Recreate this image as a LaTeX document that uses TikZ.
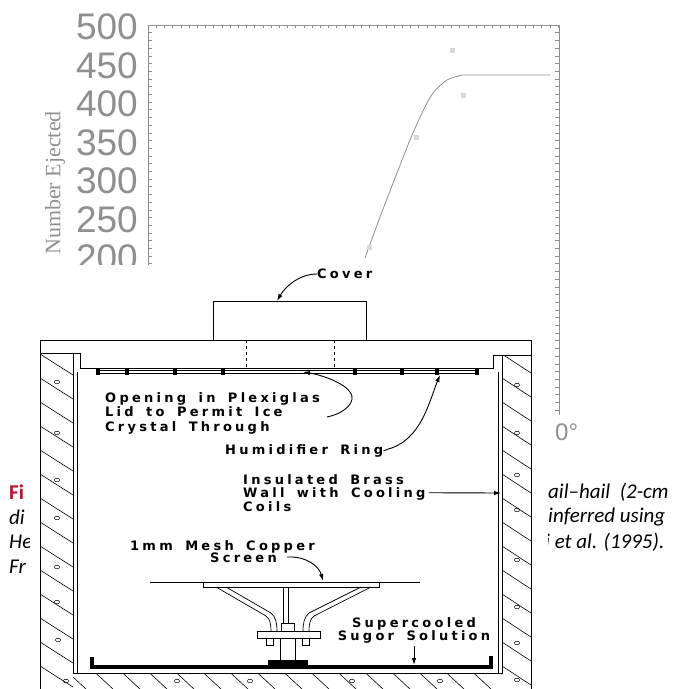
\documentclass[tikz,border=0pt]{standalone}
\usepackage{fontspec}
\setmainfont{Liberation Serif}
\newfontfamily\axisfont{Liberation Sans}
\newfontfamily\capfont{Carlito}
\newfontfamily\lblfont{DejaVu Sans}[LetterSpace=25,WordSpace=1.6]
\usetikzlibrary{calc,arrows,arrows.meta}
\definecolor{plotgray}{gray}{0.56}
\definecolor{capred}{RGB}{192,16,48}

\begin{document}
\begin{tikzpicture}[x=1pt,y=-1pt,
    plotline/.style={draw=plotgray,line width=0.8pt},
    axTick/.style={draw=plotgray,line width=0.5pt},
    ylbl/.style={text=plotgray,font=\axisfont\fontsize{37}{37}\selectfont,anchor=east,inner sep=0pt},
    part/.style={draw=black,line width=0.9pt},
    hatchline/.style={draw=black,line width=0.6pt},
    lbl/.style={font=\lblfont\bfseries\fontsize{13}{14.5}\selectfont,inner sep=0pt,align=left},
    ptr/.style={draw=black,line width=0.9pt,-{Latex[length=7pt,width=4.5pt]}},
    capt/.style={font=\capfont\itshape\fontsize{21}{21}\selectfont,anchor=west,inner sep=0pt}]
  \useasboundingbox (0,0) rectangle (673,689);
  %plot behind
  \draw[plotline] (148,265) -- (148,25) -- (559,25) -- (559,415);
  \foreach \y in {25,32.7,...,265} \draw[axTick] (148,\y) -- ++(4,0);
  \foreach \y in {25,32.7,...,415} \draw[axTick] (559,\y) -- ++(-4,0);
  \foreach \x in {148,156.2,...,559} \draw[axTick] (\x,25) -- ++(0,3);
  \foreach \v [count=\i from 0] in {500,450,...,200}
    \node[ylbl] (yTick\v) at (138,{27+38.5*\i}) {\v};
  \node[rotate=90,text=plotgray,font=\fontsize{22}{22}\selectfont,inner sep=0pt] (yTitle) at (55,183) {Number Ejected};
  \draw[plotline] plot[smooth] coordinates {(365,258) (380,217) (397,173) (410,140) (422,113) (433,93) (447,80) (462,75)} -- (550,75);
  \foreach \p in {(452,50),(463,95),(416,137),(369,247)}
    \fill[plotgray!35] \p +(-2.5,-2.5) rectangle +(2.5,2.5);
  \node[text=plotgray,font=\axisfont\fontsize{24}{24}\selectfont,anchor=west,inner sep=0pt] (xTickEnd) at (555,432) {0\textdegree};
  %caption pieces
  \node[capt,font=\capfont\bfseries\fontsize{21}{21}\selectfont,text=capred] (capFig) at (9,492) {Fi};
  \node[capt] (capDi) at (9,517) {di};
  \node[capt] (capHe) at (9,542) {He};
  \node[capt] (capFr) at (9,567) {Fr};
  \node[capt] (capHail) at (548,492) {ail–hail\ \ (2-cm};
  \node[capt] (capUsing) at (548,517) {inferred using};
  \node[capt] (capEtal) at (545,542) {i et al. (1995).};
  \fill[white] (30,265) rectangle (548,689);
  %walls
  \begin{scope}
    \clip (40,353) rectangle (73,689);
    \foreach \k in {0,...,16} \draw[hatchline] (40,{330+24*\k}) -- ++(33,21);
  \end{scope}
  \begin{scope}
    \clip (502,355) rectangle (531,689);
    \foreach \k in {0,...,16} \draw[hatchline] (502,{330+24*\k}) -- ++(29,19);
  \end{scope}
  \begin{scope}
    \clip (73,673) rectangle (502,689);
    \foreach \x in {60,87,...,520} \draw[hatchline] (\x,665) -- ++(26,24);
  \end{scope}
  \foreach \p in {(57,382),(57,433),(57,480),(57,518),(57,567),(57,602),(58,640),(66,681),
                  (517,385),(517,433),(517,475),(517,510),(517,560),(517,607),(517,643),(517,680),
                  (177,681),(250,681),(352,681),(440,681)}
    \draw[line width=0.5pt] \p ellipse [x radius=2.6pt,y radius=1.8pt];
  \draw[part] (40,689) -- (40,340) -- (531,340) -- (531,689);
  \draw[part] (40,353) -- (80,353) -- (80,368) -- (493,368) -- (493,355) -- (531,355);
  \draw[part] (73,353) -- (73,673) -- (502,673) -- (502,355);
  \draw[line width=0.5pt] (77,372) -- (77,673);
  \draw[line width=0.5pt] (498,372) -- (498,673);
  %cover and lid
  \draw[part] (213,340) -- (213,301) -- (366,301) -- (366,340);
  \draw[part,dashed] (246,340) -- (246,368);
  \draw[part,dashed] (334,340) -- (334,368);
  %humidifier ring
  \draw[line width=0.5pt] (97,370.5) -- (478,370.5);
  \draw[line width=0.5pt] (97,373) -- (478,373);
  \foreach \x in {98,127,175,223,355,402,437,477}
    \fill ({\x-2},369) rectangle ({\x+2},374.5);
  %screen stand
  \draw[part] (150,582) -- (420,582);
  \draw[part] (203,582) -- (203,587) -- (379,587) -- (379,582);
  \draw[line width=0.7pt] (216,587) -- (266,616) .. controls (270,619) and (271,624) .. (271,631);
  \draw[line width=0.7pt] (226,587) -- (271,613) .. controls (276,617) and (277,624) .. (277,631);
  \draw[line width=0.7pt] (371,587) -- (314,616) .. controls (310,619) and (309,624) .. (309,631);
  \draw[line width=0.7pt] (361,587) -- (309,613) .. controls (304,617) and (303,624) .. (303,631);
  \draw[line width=0.7pt] (283,587) -- (283,623);
  \draw[line width=0.7pt] (288,587) -- (288,623);
  \draw[line width=0.7pt] (281,623) rectangle (294,631);
  \draw[part] (257,631) rectangle (320,638);
  \draw[line width=0.7pt] (266,638) -- (266,645) -- (273,645) -- (273,638);
  \draw[line width=0.7pt] (302,638) -- (302,645) -- (309,645) -- (309,638);
  \draw[line width=0.7pt] (280,638) -- (280,660);
  \draw[line width=0.7pt] (295,638) -- (295,660);
  \fill (268,660) rectangle (308,668);
  \draw[line width=3.5pt] (92,657) -- (92,667) -- (491,667) -- (491,656);
  %labels
  \node[lbl,anchor=west] (coverLbl) at (317,274) {Cover};
  \node[lbl,anchor=north west] (openingLbl) at (105,392) {Opening in Plexiglas\\Lid to Permit Ice\\Crystal Through};
  \node[lbl,anchor=west] (ringLbl) at (225,451) {Humidifier Ring};
  \node[lbl,anchor=north west,font=\lblfont\bfseries\fontsize{13}{13.5}\selectfont] (wallLbl) at (243,474) {Insulated Brass\\Wall with Cooling\\Coils};
  \node[lbl,anchor=north west,font=\lblfont\bfseries\fontsize{13}{12.5}\selectfont] (screenLbl) at (130,540) {1mm Mesh Copper\\\hspace*{80pt}Screen};
  \node[lbl,anchor=north,align=center,font=\lblfont\bfseries\fontsize{13}{13}\selectfont] (sugarLbl) at (414,617) {Supercooled\\Sugor Solution};
  %pointers
  \coordinate (coverTip) at (277,301);
  \coordinate (openTail) at (327,417);
  \coordinate (openTip) at (303,372);
  \coordinate (ringTip) at (440,375);
  \coordinate (wallTip) at (501,493);
  \coordinate (screenTail) at (287,557);
  \coordinate (screenTip) at (323,581);
  \coordinate (sugarTip) at (414,665);
  \draw[ptr] (coverLbl.west) .. controls +(-18,0) and +(8,-14) .. (coverTip);
  \draw[ptr] (openTail) .. controls (346,413) and (357,401) .. (350,392) .. controls (344,383) and (322,375) .. (openTip);
  \draw[ptr] (ringLbl.east) -- ++(5,-2) .. controls (421,440) and (429,402) .. (ringTip);
  \draw[ptr,shorten <=3pt] (wallLbl.east) -- (wallTip);
  \draw[ptr] (screenTail) .. controls (306,556) and (319,566) .. (screenTip);
  \draw[ptr,shorten <=3pt] (sugarLbl.south) -- (sugarTip);
\end{tikzpicture}
\end{document}
